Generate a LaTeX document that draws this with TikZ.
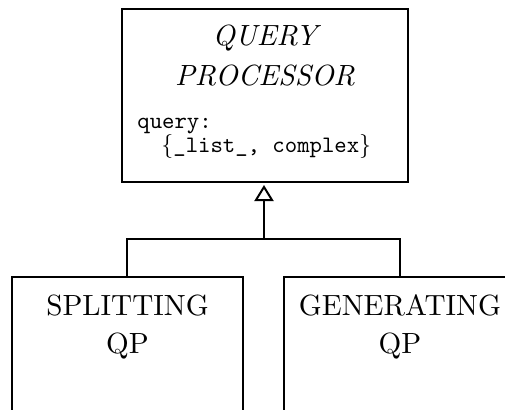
\documentclass[tikz,border=0pt]{standalone}
\usepackage{fontspec}
% 10pt design sizes, scaled up, for a heavier stroke
\setmainfont{lmroman10-regular.otf}[ItalicFont=lmroman10-italic.otf]
\setmonofont{lmmono10-regular.otf}
\usetikzlibrary{arrows.meta}
\tikzset{
  classbox/.style={draw, line width=1pt, rectangle, inner sep=0pt},
  bigtext/.style={font=\fontsize{14.6}{17}\selectfont, anchor=base, inner sep=0pt},
  codetext/.style={font=\fontsize{11.8}{12}\selectfont\ttfamily, anchor=base west,
    inner sep=0pt, align=left},
  link/.style={line width=1pt},
}
\begin{document}
\begin{tikzpicture}[x=0.5pt, y=-0.5pt]
  \useasboundingbox (0,0) rectangle (505,409);
  \clip (0,0) rectangle (505,409);

  % parent class
  \node[classbox, minimum width=143pt, minimum height=86.5pt] (qp) at (265,95.5) {};
  \node[bigtext] (qp1) at (265,45) {\itshape QUERY};
  \node[bigtext] (qp2) at (265,85) {\itshape PROCESSOR};
  % anchored on the baseline of the last line
  \node[codetext] (qp3) at (137,152)
    {query:\\\hspace*{12pt}$\{$\_list\_, complex$\}$};

  % subclasses
  \node[classbox, minimum width=115.5pt, minimum height=91.5pt] (sp) at (127.5,368.5) {};
  \node[bigtext] (sp1) at (127.5,315) {SPLITTING};
  \node[bigtext] (sp2) at (127.5,353) {QP};

  \node[classbox, minimum width=116pt, minimum height=91.5pt] (gp) at (400,368.5) {};
  \node[bigtext] (gp1) at (400,315) {GENERATING};
  \node[bigtext] (gp2) at (400,353) {QP};

  % generalisation
  \coordinate (j) at (264,239);
  \draw[link] (sp.north) |- (j);
  \draw[link] (gp.north) |- (j);
  \draw[link, -{Triangle[open, length=8pt, width=9.5pt, line width=1pt]}, shorten >=1pt]
    (j) -- (j |- qp.south);
\end{tikzpicture}
\end{document}
